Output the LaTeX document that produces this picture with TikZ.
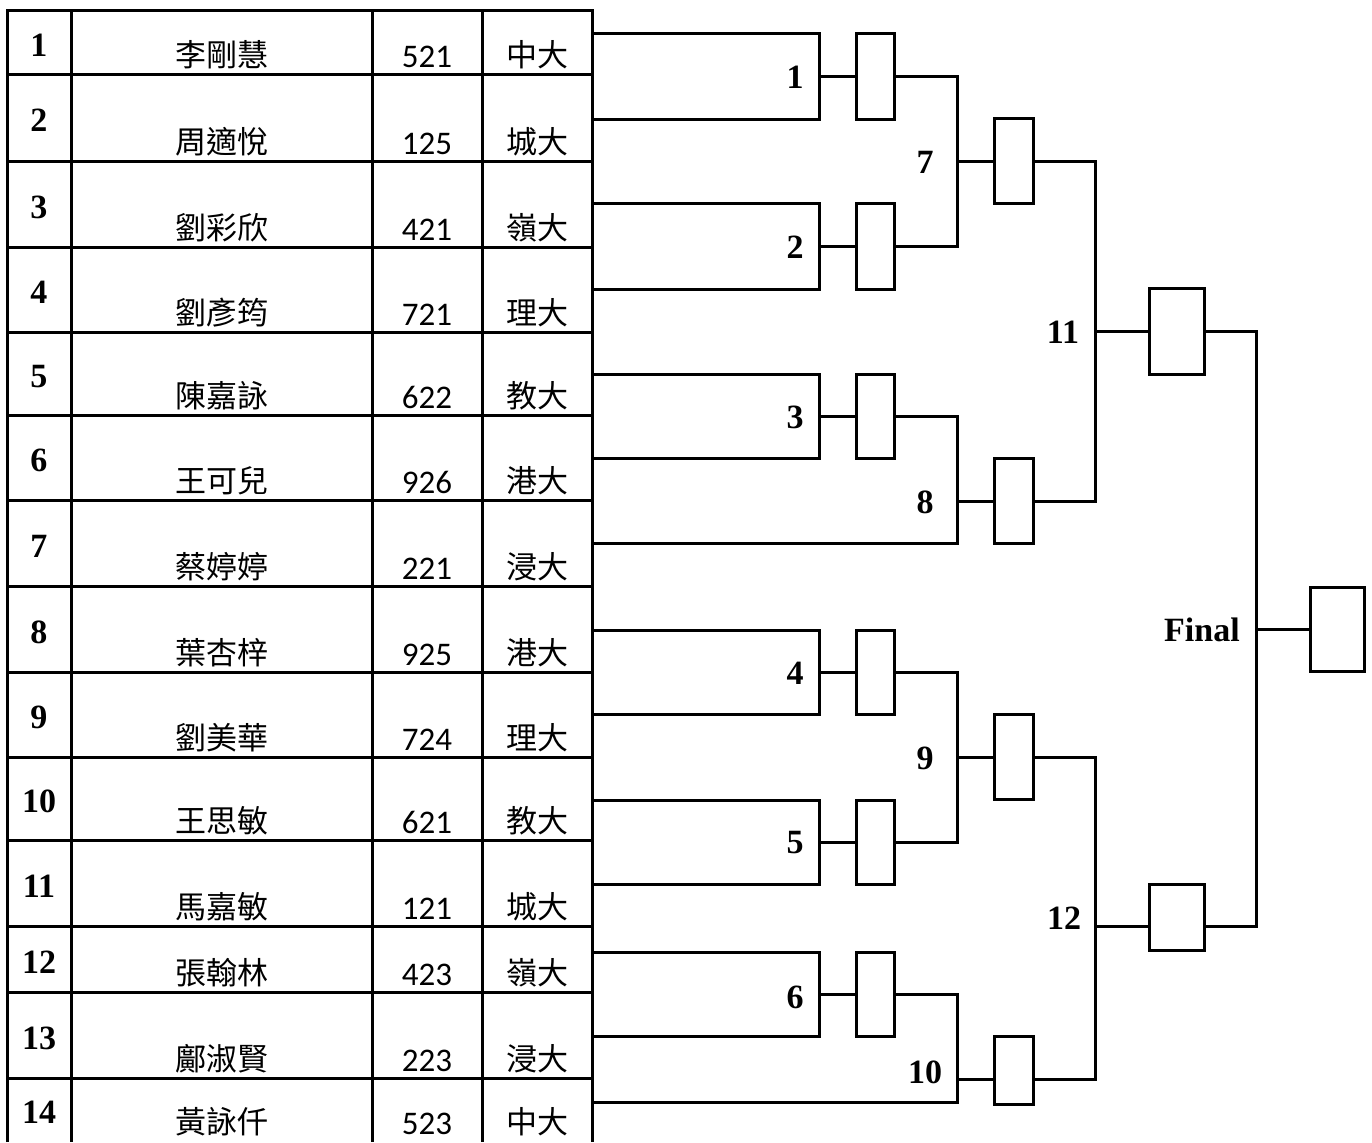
\documentclass[tikz,border=0pt]{standalone}
\usepackage{fontspec}
\setmainfont{Liberation Serif}
\newfontfamily\cjkf{Noto Sans CJK TC}
\newfontfamily\calf{Carlito}
\begin{document}
\begin{tikzpicture}[x=0.5pt,y=-0.5pt,line width=1.5pt,
  lbl/.style={font=\fontsize{17pt}{20pt}\selectfont\bfseries,inner sep=0pt},
  seed/.style={lbl,anchor=base},
  nm/.style={font=\cjkf\fontsize{15.5pt}{18pt}\selectfont,anchor=base,inner sep=0pt},
  sc/.style={font=\calf\fontsize{16.5pt}{19pt}\selectfont,anchor=base,inner sep=0pt},
  slot/.style={draw,inner sep=0pt,minimum width=19pt},
  slotb/.style={draw,inner sep=0pt,minimum width=19.5pt},
  slotc/.style={draw,inner sep=0pt,minimum width=27.5pt},
  match/.style={draw,inner sep=0pt,minimum width=113.5pt}]
\useasboundingbox (0,0) rectangle (1372,1142);

% ---- table ----
\draw (7,1142) -- (7,10) -- (592,10) -- (592,1142);
\foreach \y in {74,161,247,332,415,500,586,672,757,840,926,992,1078}
  \draw (7,\y) -- (592,\y);
\foreach \x in {71,372,482}
  \draw (\x,10) -- (\x,1142);

\foreach \i/\n/\s/\u/\t/\b in {
  1/李剛慧/521/中大/10/74,
  2/周適悅/125/城大/74/161,
  3/劉彩欣/421/嶺大/161/247,
  4/劉彥筠/721/理大/247/332,
  5/陳嘉詠/622/教大/332/415,
  6/王可兒/926/港大/415/500,
  7/蔡婷婷/221/浸大/500/586,
  8/葉杏梓/925/港大/586/672,
  9/劉美華/724/理大/672/757,
  10/王思敏/621/教大/757/840,
  11/馬嘉敏/121/城大/840/926,
  12/張翰林/423/嶺大/926/992,
  13/鄺淑賢/223/浸大/992/1078,
  14/黃詠仟/523/中大/1078/1141}{
  \node[seed] (seed\i) at (39,{(\t+\b)/2+14}) {\i};
  \node[nm] (name\i) at (221.5,\b-8) {\n};
  \node[sc] (score\i) at (427,\b-7) {\s};
  \node[nm] (uni\i) at (537,\b-8) {\u};
}

% ---- round 1 ----
\node[match,minimum height=43pt] (m1) at (705.5,76) {};
\node[match,minimum height=43pt] (m2) at (705.5,246) {};
\node[match,minimum height=42pt] (m3) at (705.5,416) {};
\node[match,minimum height=42pt] (m4) at (705.5,672) {};
\node[match,minimum height=42pt] (m5) at (705.5,842) {};
\node[match,minimum height=42pt] (m6) at (705.5,994) {};

\node[slot,minimum height=43pt] (s1) at (875,76) {};
\node[slot,minimum height=43pt] (s2) at (875,246) {};
\node[slot,minimum height=42pt] (s3) at (875,416) {};
\node[slot,minimum height=42pt] (s4) at (875,672) {};
\node[slot,minimum height=42pt] (s5) at (875,842) {};
\node[slot,minimum height=42pt] (s6) at (875,994) {};

\foreach \k in {1,...,6} \draw (m\k.east) -- (s\k.west);

% ---- round 2 ----
\node[slotb,minimum height=42.5pt] (s7) at (1013.5,161) {};
\node[slotb,minimum height=42.5pt] (s8) at (1013.5,501) {};
\node[slotb,minimum height=42.5pt] (s9) at (1013.5,757) {};
\node[slotb,minimum height=34pt] (s10) at (1013.5,1070) {};

\coordinate (j7) at (957,161);
\coordinate (j8) at (957,501);
\coordinate (e8) at (592,543);
\coordinate (j9) at (957,757);
\coordinate (j10) at (957,1079);
\coordinate (e10) at (592,1102);

\draw (s1.east) -- (s1.east -| j7) -- (s2.east -| j7) -- (s2.east);
\draw (j7) -- (s7.west);
\draw (s3.east) -- (s3.east -| j8) -- (e8 -| j8) -- (e8);
\draw (j8) -- (s8.west);
\draw (s4.east) -- (s4.east -| j9) -- (s5.east -| j9) -- (s5.east);
\draw (j9) -- (s9.west);
\draw (s6.east) -- (s6.east -| j10) -- (e10 -| j10) -- (e10);
\draw (j10) -- (j10 -| s10.west);

% ---- round 3 ----
\node[slotc,minimum height=43pt] (s11) at (1176.5,331) {};
\node[slotc,minimum height=33pt] (s12) at (1176.5,917) {};
\coordinate (j11) at (1095,331);
\coordinate (j12) at (1095,926);
\draw (s7.east) -- (s7.east -| j11) -- (s8.east -| j11) -- (s8.east);
\draw (j11) -- (s11.west);
\draw (s9.east) -- (s9.east -| j12) -- (j10 -| j12) -- (j10 -| s10.east);
\draw (j12) -- (j12 -| s12.west);

% ---- final ----
\node[draw,inner sep=0pt,minimum width=27pt,minimum height=42pt] (sf) at (1337,629) {};
\coordinate (jf) at (1256,629);
\draw (s11.east) -- (s11.east -| jf) -- (j12 -| jf) -- (j12 -| s12.east);
\draw (jf) -- (sf.west);

% ---- labels ----
\node[lbl] (l1) at (795,77) {1};
\node[lbl] (l2) at (795,247) {2};
\node[lbl] (l3) at (795,417) {3};
\node[lbl] (l4) at (795,673) {4};
\node[lbl] (l5) at (795,843) {5};
\node[lbl] (l6) at (795,997) {6};
\node[lbl] (l7) at (925,162) {7};
\node[lbl] (l8) at (925,502) {8};
\node[lbl] (l9) at (925,758) {9};
\node[lbl] (l10) at (925,1072) {10};
\node[lbl] (l11) at (1063,332) {11};
\node[lbl] (l12) at (1064,918) {12};
\node[lbl] (lf) at (1202,630) {Final};
\end{tikzpicture}
\end{document}
